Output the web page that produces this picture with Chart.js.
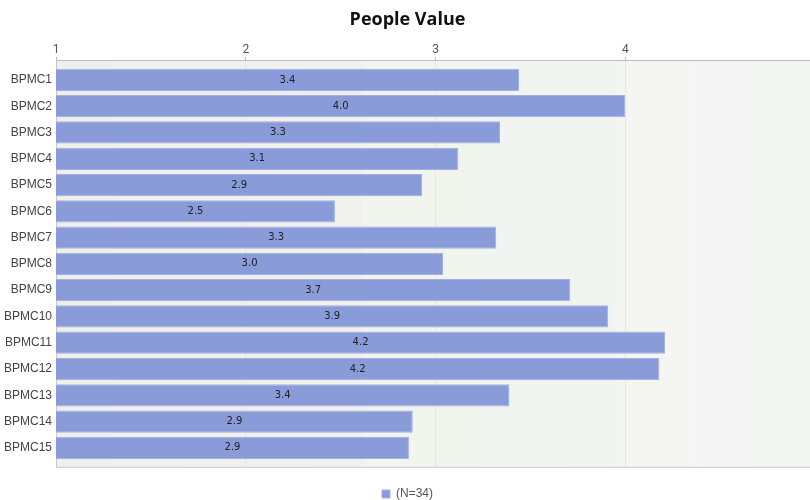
<!DOCTYPE html>
<html>
<head>
<meta charset="utf-8">
<script src="https://cdn.jsdelivr.net/npm/chart.js@4/dist/chart.umd.min.js"></script>
<style>
  html, body { margin: 0; padding: 0; background: #fff; overflow: hidden; }
  #wrap { width: 815px; height: 510px; }
</style>
</head>
<body>
<div id="wrap"><canvas id="c"></canvas></div>
<script>
const categories = ['BPMC1','BPMC2','BPMC3','BPMC4','BPMC5','BPMC6','BPMC7','BPMC8','BPMC9','BPMC10','BPMC11','BPMC12','BPMC13','BPMC14','BPMC15'];
const values = [3.44, 4.00, 3.34, 3.12, 2.93, 2.47, 3.32, 3.04, 3.71, 3.91, 4.21, 4.18, 3.39, 2.88, 2.86];
const seriesName = '(N=34)';
const tickValues = [1, 2, 3, 4];

// soft background bands behind the bars: [from, to, colour]
const bands = [
  [1.00, 1.30, '#eef0ec'],
  [1.30, 2.62, '#f0f1ed'],
  [2.62, 3.24, '#f2f4ee'],
  [3.24, 3.95, '#f0f5f1'],
  [3.95, 4.36, '#f5f5f1'],
  [4.36, 4.68, '#f5f5f5'],
  [4.68, 5.00, '#f2f6f2']
];

// empty space kept above the first and below the last category, in category units
const edgeGap = 0.22;

const bandPlugin = {
  id: 'bands',
  beforeDraw(chart) {
    const { ctx, chartArea: a, scales: { x } } = chart;
    ctx.save();
    bands.forEach(([from, to, col]) => {
      const x0 = x.getPixelForValue(from), x1 = x.getPixelForValue(to);
      ctx.fillStyle = col;
      ctx.fillRect(x0, a.top, x1 - x0, a.bottom - a.top);
    });
    ctx.restore();
  },
  afterDraw(chart) {
    const { ctx, chartArea: a } = chart;
    ctx.save();
    ctx.strokeStyle = '#c8c8c8';
    ctx.lineWidth = 1;
    ctx.beginPath();
    ctx.moveTo(a.left, a.bottom + 0.5);
    ctx.lineTo(a.right, a.bottom + 0.5);
    ctx.stroke();
    ctx.restore();
  }
};

// value printed in the middle of the visible part of each bar
const valueLabels = {
  id: 'valueLabels',
  afterDatasetsDraw(chart) {
    const { ctx, chartArea: a } = chart;
    const meta = chart.getDatasetMeta(0);
    ctx.save();
    ctx.font = '10px "DejaVu Sans"';
    ctx.fillStyle = '#222';
    ctx.textAlign = 'center';
    ctx.textBaseline = 'middle';
    meta.data.forEach((bar, i) => {
      const cx = (bar.x + a.left) / 2;
      ctx.fillText(values[i].toFixed(1), cx, bar.y);
    });
    ctx.restore();
  }
};

new Chart(document.getElementById('c'), {
  type: 'bar',
  data: {
    labels: categories,
    datasets: [{
      label: seriesName,
      data: values,
      backgroundColor: '#8a9bd9',
      borderColor: '#a3b0e4',
      borderWidth: 1,
      barPercentage: 0.92,
      categoryPercentage: 0.92
    }]
  },
  options: {
    indexAxis: 'y',
    responsive: true,
    maintainAspectRatio: false,
    animation: false,
    layout: { padding: 0 },
    scales: {
      x: {
        position: 'top',
        min: 1,
        max: 5,
        afterBuildTicks(axis) {
          axis.ticks = tickValues.concat([5]).map(v => ({ value: v }));
        },
        ticks: {
          color: '#555',
          font: { family: 'Roboto', size: 12 },
          padding: 0,
          maxRotation: 0,
          callback: v => tickValues.includes(v) ? String(v) : ''
        },
        grid: { color: '#e6e6e6', tickLength: 4, tickColor: '#bbb' },
        border: { color: '#bdbdbd' }
      },
      y: {
        afterBuildTicks(axis) {
          // widen the category range a little so the bars sit inside the frame
          axis._startValue -= edgeGap;
          axis._valueRange += edgeGap * 2;
        },
        grid: { display: false, drawTicks: false, tickLength: 0 },
        border: { color: '#c8c8c8' },
        ticks: {
          color: '#444',
          font: { family: '"Liberation Sans"', size: 12 },
          padding: 4
        }
      }
    },
    plugins: {
      title: {
        display: true,
        text: 'People Value',
        color: '#111',
        font: { family: '"Open Sans"', size: 18, weight: 'bold' },
        padding: { top: 9, bottom: 12 }
      },
      legend: {
        position: 'bottom',
        title: { display: true, text: ' ', font: { size: 1 }, padding: { top: 0, bottom: 16 } },
        labels: {
          boxWidth: 8,
          boxHeight: 8,
          color: '#555',
          font: { family: '"Liberation Sans"', size: 12 },
          padding: 4
        }
      },
      tooltip: { enabled: false }
    }
  },
  plugins: [bandPlugin, valueLabels]
});
</script>
</body>
</html>
